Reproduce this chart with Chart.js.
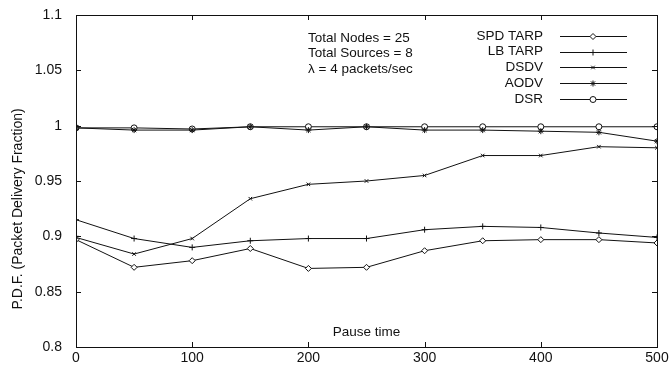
<!DOCTYPE html>
<html>
<head>
<meta charset="utf-8">
<script src="https://cdn.jsdelivr.net/npm/chart.js@4/dist/chart.umd.min.js"></script>
<style>
    html, body { margin: 0; padding: 0; background: #fff; }
    #wrap { width: 671px; height: 366px; position: relative; }
</style>
</head>
<body>
<div id="wrap"><canvas id="pdfChart"></canvas></div>
<script>
// pause time (sec)
const pauseTimes = [0, 50, 100, 150, 200, 250, 300, 350, 400, 450, 500];

const spdTarp = [0.897, 0.872, 0.878, 0.889, 0.871, 0.872, 0.887, 0.896, 0.897, 0.897, 0.894];
const lbTarp  = [0.915, 0.898, 0.890, 0.896, 0.898, 0.898, 0.906, 0.909, 0.908, 0.903, 0.899];
const dsdv    = [0.899, 0.884, 0.898, 0.934, 0.947, 0.950, 0.955, 0.973, 0.973, 0.981, 0.980];
const aodv    = [0.998, 0.996, 0.996, 0.999, 0.996, 0.999, 0.996, 0.996, 0.995, 0.994, 0.986];
const dsr     = [0.998, 0.998, 0.997, 0.999, 0.999, 0.999, 0.999, 0.999, 0.999, 0.999, 0.999];

const xTicks = [0, 100, 200, 300, 400, 500];
const yTicks = [0.8, 0.85, 0.9, 0.95, 1, 1.05, 1.1];

const infoLines = ['Total Nodes = 25', 'Total Sources = 8', 'λ = 4 packets/sec'];
const xTitle = 'Pause time';
const yTitle = 'P.D.F. (Packet Delivery Fraction)';

const FONT = '"Liberation Sans", Arial, sans-serif';
const INK = '#111';

function series(label, values, pointStyle, radius, fill) {
    return {
        label,
        data: pauseTimes.map((t, i) => ({ x: t, y: values[i] })),
        borderColor: INK,
        backgroundColor: fill ? '#fff' : INK,
        borderWidth: 1,
        pointStyle,
        pointRadius: radius,
        pointBorderWidth: 1,
        pointBorderColor: INK,
        pointBackgroundColor: fill ? '#fff' : INK,
        tension: 0,
    };
}

// gnuplot-like frame, inward ticks, text and legend
const framePlugin = {
    id: 'frame',
    afterDraw(chart) {
        const { ctx, chartArea: a, scales } = chart;
        const tl = 5;
        ctx.save();
        ctx.strokeStyle = INK;
        ctx.lineWidth = 1;
        ctx.strokeRect(a.left + 0.5, a.top + 0.5, a.right - a.left, a.bottom - a.top);
        ctx.beginPath();
        yTicks.forEach(v => {
            const y = Math.round(scales.y.getPixelForValue(v)) + 0.5;
            ctx.moveTo(a.left, y); ctx.lineTo(a.left + tl, y);
            ctx.moveTo(a.right, y); ctx.lineTo(a.right - tl, y);
        });
        xTicks.forEach(v => {
            const x = Math.round(scales.x.getPixelForValue(v)) + 0.5;
            ctx.moveTo(x, a.bottom); ctx.lineTo(x, a.bottom - tl);
            ctx.moveTo(x, a.top); ctx.lineTo(x, a.top + tl);
        });
        ctx.stroke();

        ctx.fillStyle = INK;
        ctx.font = '13.5px ' + FONT;
        ctx.textBaseline = 'middle';

        // info block
        ctx.textAlign = 'left';
        infoLines.forEach((t, i) => ctx.fillText(t, 308, 38 + i * 15.5));

        // x title inside the plot
        ctx.textAlign = 'center';
        ctx.fillText(xTitle, (a.left + a.right) / 2, 332);

        // y title
        ctx.save();
        ctx.font = '14px ' + FONT;
        ctx.translate(18, 209);
        ctx.rotate(-Math.PI / 2);
        ctx.fillText(yTitle, 0, 0);
        ctx.restore();

        // legend: text right, sample line on the right
        chart.data.datasets.forEach((ds, i) => {
            const y = 36 + i * 15.7;
            ctx.textAlign = 'right';
            ctx.fillStyle = INK;
            ctx.fillText(ds.label, 543, y);
            ctx.beginPath();
            ctx.moveTo(560, Math.round(y) + 0.5);
            ctx.lineTo(627, Math.round(y) + 0.5);
            ctx.stroke();
            ctx.fillStyle = ds.pointBackgroundColor;
            ctx.strokeStyle = INK;
            Chart.helpers.drawPoint(ctx, {
                pointStyle: ds.pointStyle,
                radius: ds.pointRadius,
                rotation: 0,
                borderWidth: 1,
            }, 593, Math.round(y) + 0.5);
        });
        ctx.restore();
    },
};

new Chart(document.getElementById('pdfChart'), {
    type: 'line',
    data: {
        datasets: [
            series('SPD TARP', spdTarp, 'rectRot', 3, true),
            series('LB TARP', lbTarp, 'cross', 3, false),
            series('DSDV', dsdv, 'crossRot', 2.5, false),
            series('AODV', aodv, 'star', 3, false),
            series('DSR', dsr, 'circle', 3, true),
        ],
    },
    options: {
        responsive: true,
        maintainAspectRatio: false,
        animation: false,
        layout: { padding: { top: 15, right: 14, left: 0, bottom: 0 } },
        plugins: {
            legend: { display: false },
            tooltip: { enabled: false },
        },
        scales: {
            x: {
                type: 'linear',
                min: 0,
                max: 500,
                grid: { display: false, drawTicks: false },
                border: { display: false },
                afterBuildTicks: s => { s.ticks = xTicks.map(v => ({ value: v })); },
                afterFit: s => { s.height = 19; s.paddingLeft = 0; s.paddingRight = 0; },
                ticks: {
                    color: INK,
                    padding: 3,
                    maxRotation: 0,
                    font: { family: FONT, size: 14 },
                },
            },
            y: {
                min: 0.8,
                max: 1.1,
                grid: { display: false, drawTicks: false },
                border: { display: false },
                afterBuildTicks: s => { s.ticks = yTicks.map(v => ({ value: v })); },
                afterFit: s => { s.width = 76; s.paddingTop = 0; s.paddingBottom = 0; },
                ticks: {
                    color: INK,
                    padding: 14,
                    font: { family: FONT, size: 14 },
                    callback: v => String(+v.toFixed(2)),
                },
            },
        },
    },
    plugins: [framePlugin],
});
</script>
</body>
</html>
